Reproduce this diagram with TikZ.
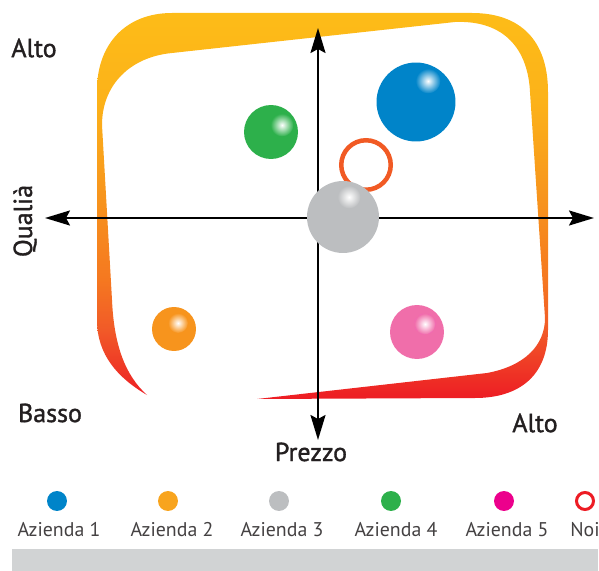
\documentclass[tikz,border=0pt]{standalone}
\usepackage{fontspec}
\setmainfont{PT Sans}
\newfontfamily\labelfont[FakeBold=1.3]{PT Sans}
\usetikzlibrary{positioning,arrows.meta}

\definecolor{fred}{RGB}{237,28,36}
\definecolor{fredorange}{RGB}{241,90,40}
\definecolor{fdeeporange}{RGB}{245,120,32}
\definecolor{forange}{RGB}{247,148,29}
\definecolor{fgold}{RGB}{252,178,25}
\definecolor{fyellow}{RGB}{253,188,24}
\definecolor{azblue}{RGB}{0,132,201}
\definecolor{azorange}{RGB}{247,148,29}
\definecolor{azlegorange}{RGB}{248,164,30}
\definecolor{azgray}{RGB}{188,190,192}
\definecolor{azgreen}{RGB}{45,176,75}
\definecolor{azpink}{RGB}{240,110,170}
\definecolor{azmagenta}{RGB}{236,0,140}
\definecolor{noiorange}{RGB}{241,90,36}
\definecolor{labelgray}{RGB}{35,31,32}
\definecolor{bargray}{RGB}{209,211,212}

\pgfdeclareverticalshading{framefade}{100bp}{color(0bp)=(fred); color(25bp)=(fred);
  color(34bp)=(fredorange); color(40.5bp)=(fdeeporange); color(51bp)=(forange);
  color(63.5bp)=(fgold); color(75bp)=(fyellow); color(100bp)=(fyellow)}

\begin{document}
\begin{tikzpicture}[x=0.02cm, y=-0.02cm, node distance=0.58cm]

\tikzstyle{ball} = [circle, inner sep=0pt]
\tikzstyle{shine} = [circle, inner sep=0pt, minimum size=0.46cm, shading=radial, inner color=white]
\tikzstyle{axislabel} = [text=labelgray, font=\labelfont\fontsize{14.8}{17}\selectfont]
\tikzstyle{legdot} = [circle, inner sep=0pt, minimum size=0.4cm]
\tikzstyle{legtext} = [text=labelgray!85, font=\fontsize{11.3}{14}\selectfont]
\tikzstyle{arrow} = [line width=1.3pt, {Stealth[length=0.5cm,width=0.3cm,inset=0.08cm]}-{Stealth[length=0.5cm,width=0.3cm,inset=0.08cm]}]

\useasboundingbox (0,0) rectangle (599,571);

% frame
\shade[shading=framefade] (147,395) .. controls (118,378) and (97,355) .. (97,320)
  -- (97,90) .. controls (97,45) and (125,13) .. (172,13)
  -- (472,13) .. controls (520,13) and (548,40) .. (548,92)
  -- (548,330) .. controls (548,375) and (520,398) .. (475,398)
  -- (257,399) -- (487,373) .. controls (525,366) and (545,345) .. (545,318)
  -- (530,92) .. controls (528,50) and (505,20) .. (455,22)
  -- (172,53) .. controls (130,57) and (102,85) .. (102,125)
  -- (112,300) .. controls (114,345) and (125,375) .. (147,395) -- cycle;

% axes
\coordinate (ytop) at (318,28);
\coordinate (ybot) at (318,440);
\coordinate (xleft) at (45,218);
\coordinate (xright) at (594,218);
\draw [arrow] (ybot) -- (ytop);
\draw [arrow] (xleft) -- (xright);

\node (alto1) [axislabel] at (34,48) {Alto};
\node (qual) [axislabel, rotate=90] at (25,221) {Qualià};
\node (basso) [axislabel] at (50,413) {Basso};
\node (prezzo) [axislabel] at (311,452) {Prezzo};
\node (alto2) [axislabel] at (535,423) {Alto};

% bubbles
\node (noi) [circle, draw=noiorange, line width=0.09cm, minimum size=0.99cm] at (366,165) {};
\node (az1) [ball, fill=azblue, minimum size=1.58cm] at (416,102) {};
\node (az1s) [shine, outer color=azblue, minimum size=0.5cm] at (428,81) {};
\node (az4) [ball, fill=azgreen, minimum size=1.08cm] at (271,132) {};
\node (az4s) [shine, outer color=azgreen] at (282,125) {};
\node (az3) [ball, fill=azgray, minimum size=1.44cm] at (343,217) {};
\node (az3s) [shine, outer color=azgray] at (349,197) {};
\node (az2) [ball, fill=azorange, minimum size=0.88cm] at (174,329) {};
\node (az2s) [shine, outer color=azorange, minimum size=0.4cm] at (178,323) {};
\node (az5) [ball, fill=azpink, minimum size=1.08cm] at (417,332) {};
\node (az5s) [shine, outer color=azpink, minimum size=0.42cm, draw=azmagenta!60, densely dashed, very thin] at (425,324) {};

% legend
\node (d1) [legdot, fill=azblue] at (57,501) {};
\node (t1) [legtext, below of = d1, xshift=0.04cm] {Azienda 1};
\node (d2) [legdot, fill=azlegorange] at (168,501) {};
\node (t2) [legtext, below of = d2, xshift=0.08cm] {Azienda 2};
\node (d3) [legdot, fill=azgray] at (279,501) {};
\node (t3) [legtext, below of = d3, xshift=0.06cm] {Azienda 3};
\node (d4) [legdot, fill=azgreen] at (391,501) {};
\node (t4) [legtext, below of = d4, xshift=0.1cm] {Azienda 4};
\node (d5) [legdot, fill=azmagenta] at (504,501) {};
\node (t5) [legtext, below of = d5, xshift=0.06cm] {Azienda 5};
\node (d6) [legdot, draw=fred, line width=0.06cm, minimum size=0.34cm] at (585,501) {};
\node (t6) [legtext, below of = d6] {Noi};

\fill [bargray] (12,549) rectangle (598,571);

\end{tikzpicture}
\end{document}
